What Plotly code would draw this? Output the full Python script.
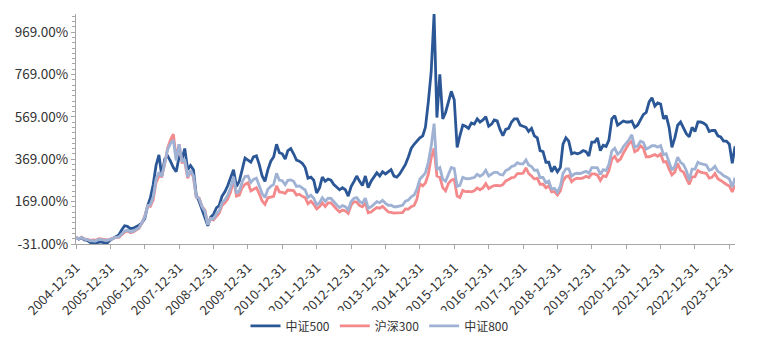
import pandas as pd
import plotly.graph_objects as go

# Month-end dates from the base date 2004-12-31 to 2024-02-29
dates = pd.date_range("2004-12-31", "2024-02-29", freq="ME")

# cumulative return (%), one value per month-end
csi500 = [0,
    -8, -2, -12, -14, -24, -28, -30, -22, -22, -26, -25, -12,      # 2005
    -5, 2, 12, 35, 55, 52, 42, 44, 50, 58, 68, 88,                 # 2006
    150, 185, 250, 340, 390, 290, 370, 385, 360, 330, 310, 380,    # 2007
    370, 420, 320, 340, 320, 200, 170, 130, 100, 55, 95, 110,      # 2008
    140, 150, 195, 215, 245, 285, 320, 240, 265, 320, 375, 365,    # 2009
    355, 380, 385, 345, 290, 265, 320, 360, 380, 440, 400, 395,    # 2010
    370, 410, 420, 395, 365, 360, 350, 330, 280, 285, 270, 210,    # 2011
    235, 285, 265, 275, 270, 250, 235, 225, 235, 225, 195, 240,    # 2012
    265, 290, 265, 245, 290, 235, 265, 285, 305, 290, 310, 300,    # 2013
    310, 320, 290, 285, 300, 320, 345, 380, 420, 440, 455, 470,    # 2014
    480, 520, 640, 780, 1055, 566, 770, 560, 590, 640, 690, 650,   # 2015
    425, 480, 530, 525, 515, 540, 535, 560, 545, 555, 570, 525,    # 2016
    535, 555, 550, 510, 480, 510, 515, 545, 560, 560, 530, 525,    # 2017
    520, 500, 515, 480, 470, 410, 405, 355, 355, 310, 335, 310,    # 2018
    330, 440, 470, 455, 395, 400, 395, 400, 410, 405, 385, 450,    # 2019
    450, 470, 410, 435, 430, 460, 560, 575, 530, 540, 550, 545,    # 2020
    545, 550, 520, 530, 555, 580, 590, 640, 660, 620, 635, 630,    # 2021
    560, 575, 520, 425, 470, 530, 545, 520, 490, 475, 520, 500,    # 2022
    545, 545, 540, 530, 500, 505, 505, 480, 475, 455, 455, 440,    # 2023
    350, 430]                                                      # 2024

csi300 = [0,
    -6, 1, -7, -9, -14, -12, -13, -6, -7, -10, -12, -8,
    -2, 0, 0, 11, 25, 31, 22, 26, 36, 43, 68, 100,
    150, 147, 178, 259, 290, 288, 347, 422, 460, 488, 374, 440,
    354, 356, 279, 314, 284, 190, 186, 146, 129, 62, 88, 82,
    100, 114, 151, 163, 182, 214, 272, 195, 200, 236, 251, 258,
    220, 228, 235, 207, 172, 156, 187, 190, 194, 244, 215, 213,
    208, 224, 222, 221, 200, 204, 194, 188, 159, 171, 157, 135,
    146, 163, 146, 163, 163, 146, 133, 120, 129, 125, 114, 152,
    169, 167, 150, 145, 163, 116, 120, 131, 141, 138, 147, 133,
    120, 118, 115, 116, 116, 117, 135, 134, 145, 151, 181, 253,
    243, 257, 299, 375, 420, 290, 285, 235, 220, 255, 270, 275,
    195, 188, 222, 216, 217, 215, 220, 233, 225, 234, 254, 231,
    239, 245, 246, 244, 249, 267, 274, 282, 284, 301, 301, 303,
    328, 302, 290, 276, 280, 251, 252, 234, 244, 215, 217, 201,
    220, 267, 287, 291, 263, 275, 280, 278, 281, 289, 283, 300,
    300, 294, 269, 291, 287, 316, 370, 382, 359, 370, 398, 421,
    445, 455, 405, 412, 433, 422, 381, 381, 387, 391, 383, 394,
    356, 358, 322, 295, 309, 349, 317, 308, 280, 251, 285, 287,
    316, 308, 305, 303, 280, 284, 302, 277, 269, 257, 250, 243,
    215, 248]

csi800 = [0,
    -6, 0, -8, -10, -16, -15, -16, -9, -10, -13, -14, -9,
    -3, 1, 2, 15, 30, 35, 26, 29, 39, 46, 68, 97,
    150, 154, 191, 274, 308, 288, 351, 415, 443, 460, 363, 440,
    357, 368, 286, 318, 291, 192, 183, 144, 124, 60, 89, 87,
    112, 125, 164, 177, 201, 235, 286, 208, 220, 262, 288, 290,
    260, 274, 280, 248, 207, 189, 227, 241, 250, 303, 270, 268,
    249, 270, 272, 265, 241, 243, 233, 224, 189, 200, 185, 154,
    164, 187, 170, 185, 184, 167, 153, 141, 150, 145, 130, 170,
    185, 188, 170, 162, 185, 138, 145, 157, 169, 164, 175, 161,
    152, 152, 145, 145, 147, 152, 171, 176, 192, 200, 228, 275,
    290, 305, 355, 430, 537, 320, 330, 275, 265, 300, 330, 325,
    241, 246, 284, 278, 277, 280, 283, 298, 289, 298, 317, 290,
    298, 307, 307, 297, 295, 316, 322, 335, 339, 353, 347, 347,
    366, 342, 335, 317, 318, 283, 283, 258, 266, 228, 232, 213,
    242, 302, 324, 324, 289, 300, 303, 302, 307, 312, 303, 330,
    330, 329, 297, 320, 316, 345, 408, 421, 393, 404, 428, 446,
    462, 485, 425, 432, 454, 449, 417, 425, 433, 433, 426, 434,
    391, 395, 356, 317, 336, 379, 355, 344, 316, 270, 323, 323,
    355, 348, 345, 342, 317, 322, 336, 312, 304, 291, 285, 276,
    238, 282]

series_names = ["中证500", "沪深300", "中证800"]
series_colors = ["#2B5797", "#F4898B", "#9FB2D4"]

x_tick_vals = ["2004-12-31", "2005-12-31", "2006-12-31", "2007-12-31", "2008-12-31",
               "2009-12-31", "2010-12-31", "2011-12-31", "2012-12-31", "2013-12-31",
               "2014-12-31", "2015-12-31", "2016-12-31", "2017-12-31", "2018-12-31",
               "2019-12-31", "2020-12-31", "2021-12-31", "2022-12-31", "2023-12-31"]
y_tick_vals = [-31, 169, 369, 569, 769, 969]
y_tick_text = ["-31.00%", "169.00%", "369.00%", "569.00%", "769.00%", "969.00%"]

FONT = "Noto Sans CJK SC, Noto Sans, sans-serif"

fig = go.Figure()
for name, vals, col in zip(series_names, [csi500, csi300, csi800], series_colors):
    fig.add_trace(go.Scatter(x=dates, y=vals, mode="lines", name=name,
                             line=dict(color=col, width=2.8)))

fig.update_layout(
    width=759, height=349,
    margin=dict(l=76, r=24, t=14, b=105, autoexpand=False),
    paper_bgcolor="white", plot_bgcolor="white",
    font=dict(family=FONT, size=12, color="#333333"),
    showlegend=True,
    legend=dict(orientation="h", xref="container", yref="container",
                x=0.5, xanchor="center", y=0.066, yanchor="middle",
                font=dict(family=FONT, size=12, color="#333333"),
                itemwidth=30, tracegroupgap=0),
    hovermode=False,
)
fig.update_xaxes(
    type="date", range=["2004-12-31", "2024-02-29"],
    tickmode="array", tickvals=x_tick_vals, ticktext=x_tick_vals,
    tickangle=-45, ticks="outside", ticklen=4, tickcolor="#A6A6A6",
    ticklabelstandoff=6, automargin=False,
    showline=True, linecolor="#A6A6A6", linewidth=1,
    showgrid=False, zeroline=False,
    tickfont=dict(family=FONT, size=13, color="#333333"),
)
fig.update_yaxes(
    range=[-31, 1055], automargin=False,
    tickmode="array", tickvals=y_tick_vals, ticktext=y_tick_text,
    ticks="outside", ticklen=4, tickcolor="#A6A6A6",
    minor=dict(ticks="outside", ticklen=3, tickcolor="#A6A6A6", tick0=-31, dtick=25),
    showline=True, linecolor="#A6A6A6", linewidth=1,
    showgrid=False, zeroline=False,
    tickfont=dict(family=FONT, size=13.5, color="#333333"),
)

fig.write_html("out.html")
